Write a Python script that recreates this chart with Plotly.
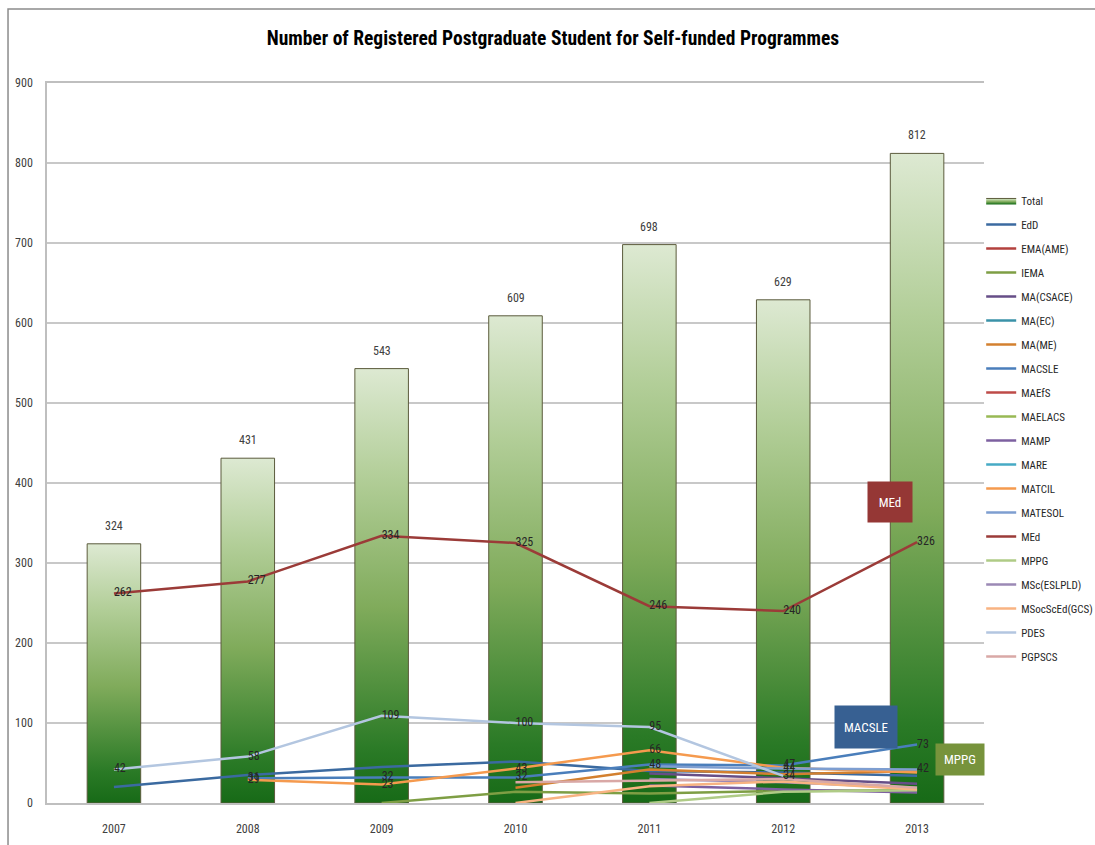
import plotly.graph_objects as go

years = ["2007", "2008", "2009", "2010", "2011", "2012", "2013"]
total = [324, 431, 543, 609, 698, 629, 812]

series_names = ["EdD", "EMA(AME)", "IEMA", "MA(CSACE)", "MA(EC)", "MA(ME)", "MACSLE",
                "MAEfS", "MAELACS", "MAMP", "MARE", "MATCIL", "MATESOL", "MEd", "MPPG",
                "MSc(ESLPLD)", "MSocScEd(GCS)", "PDES", "PGPSCS"]

EdD = [20, 35, 45, 52, 40, 38, 34]
EMA_AME = [None, None, None, None, None, None, None]
IEMA = [None, None, 0, 14, 12, 15, 16]
MA_CSACE = [None, None, None, None, 37, 31, 24]
MA_EC = [None, None, None, None, None, None, None]
MA_ME = [None, None, None, 19, 42, 36, 40]
MACSLE = [None, 31, 32, 32, 48, 47, 73]
MAEfS = [None, None, None, None, None, None, None]
MAELACS = [None, None, None, None, None, None, None]
MAMP = [None, None, None, None, 22, 17, 13]
MARE = [None, None, None, None, None, None, None]
MATCIL = [None, 29, 23, 43, 66, 44, 38]
MATESOL = [None, None, None, None, 46, 43, 42]
MEd = [262, 277, 334, 325, 246, 240, 326]
MPPG = [None, None, None, None, 0, 14, 16]
MSc_ESLPLD = [None, None, None, None, 30, 26, 19]
MSocScEd_GCS = [None, None, None, 0, 21, 27, 17]
PDES = [42, 58, 109, 100, 95, 34, None]
PGPSCS = [None, None, None, 26, 28, 30, 19]

series_values = [EdD, EMA_AME, IEMA, MA_CSACE, MA_EC, MA_ME, MACSLE, MAEfS, MAELACS, MAMP,
                 MARE, MATCIL, MATESOL, MEd, MPPG, MSc_ESLPLD, MSocScEd_GCS, PDES, PGPSCS]

series_colors = ["#3B6AA0", "#B3413E", "#7E9E44", "#664E87", "#3A92A8", "#D3802F", "#4A7EBB",
                 "#BE4B48", "#98B954", "#7D60A0", "#46AAC5", "#F59A4E", "#7E9ED0", "#9B3B38",
                 "#AFCB86", "#9B89B5", "#F8B382", "#B3C6E0", "#D9A8A6"]

# which points carry a data label (True = show value)
label_flags = {
    "MEd":     [True, True, True, True, True, True, True],
    "PDES":    [True, True, True, True, True, True, False],
    "MACSLE":  [False, True, True, True, True, True, True],
    "MATCIL":  [False, True, True, True, True, True, False],
    "MATESOL": [False, False, False, False, False, False, True],
}

FONT = "Liberation Sans Narrow, Arial Narrow, Roboto Condensed, sans-serif"
BAR_HALF = 0.2

fig = go.Figure()

# Total bars with vertical gradient (one closed shape per bar)
for i, v in enumerate(total):
    fig.add_trace(go.Scatter(
        x=[i - BAR_HALF, i - BAR_HALF, i + BAR_HALF, i + BAR_HALF, i - BAR_HALF],
        y=[0, v, v, 0, 0],
        mode="lines", fill="toself",
        fillcolor="#7fae5c",
        fillgradient=dict(type="vertical",
                          colorscale=[[0, "#176a17"], [0.12, "#2a7a26"], [0.45, "#80ab5b"],
                                      [0.75, "#b2ce98"], [1, "#dde9d2"]]),
        line=dict(color="#5b5b3c", width=1),
        name="Total", legendgroup="Total", showlegend=(i == 0),
        hoverinfo="skip",
    ))

# Total value labels
for i, v in enumerate(total):
    fig.add_annotation(x=i, y=v, xref="x", yref="y", text=str(v), showarrow=False,
                       yanchor="bottom", yshift=9,
                       font=dict(family=FONT, size=12, color="#404040"))

for name, vals, col in zip(series_names, series_values, series_colors):
    fig.add_trace(go.Scatter(
        x=list(range(len(years))), y=vals, mode="lines", name=name,
        legendgroup=name, line=dict(color=col, width=2.5),
    ))

for name, vals in zip(series_names, series_values):
    flags = label_flags.get(name)
    if flags:
        fig.add_trace(go.Scatter(
            x=list(range(len(years))), y=vals, mode="text",
            text=[str(v) if (v is not None and f) else "" for v, f in zip(vals, flags)],
            textposition="middle right",
            textfont=dict(family=FONT, size=12, color="#262626"),
            showlegend=False, hoverinfo="skip", cliponaxis=False,
        ))

# Callout boxes
callouts = [("MEd", 5.8, 376, "#953735", 42, 38),
            ("MACSLE", 5.62, 95, "#376092", 60, 40),
            ("MPPG", 6.32, 54, "#77933C", 46, 29)]
for txt, cx, cy, bg, w, h in callouts:
    fig.add_annotation(x=cx, y=cy, xref="x", yref="y", text=txt, showarrow=False,
                       bgcolor=bg, width=w, height=h,
                       font=dict(family=FONT, size=13, color="white"))

# outer chart frame
fig.add_shape(type="rect", xref="paper", yref="paper",
              x0=-0.0416, x1=1.2, y0=-0.2, y1=1.1028,
              line=dict(color="#8c8c8c", width=1.5), layer="below")

fig.update_layout(
    width=1095, height=845,
    margin=dict(l=47, r=111, t=83, b=42, autoexpand=False),
    paper_bgcolor="white", plot_bgcolor="white",
    title=dict(text="<b>Number of Registered Postgraduate Student for Self-funded Programmes</b>",
               x=0.505, xanchor="center", y=1 - 38 / 845, yanchor="middle",
               font=dict(family=FONT, size=19.5, color="#000000")),
    font=dict(family=FONT, size=12, color="#404040"),
    showlegend=True,
    legend=dict(x=0.997, xanchor="left", y=0.857, yanchor="top",
                traceorder="grouped", tracegroupgap=5,
                font=dict(family=FONT, size=11, color="#262626"),
                bgcolor="rgba(0,0,0,0)"),
    xaxis=dict(range=[-0.5, 6.5], tickmode="array", tickvals=list(range(len(years))),
               ticktext=years, showgrid=False, zeroline=False,
               showline=True, linecolor="#bfbfbf", linewidth=1.5, mirror=True,
               tickfont=dict(family=FONT, size=12, color="#404040"),
               ticks="", ticklabelstandoff=14),
    yaxis=dict(range=[0, 900], tickmode="linear", dtick=100, showgrid=True,
               gridcolor="#c8c8c8", gridwidth=1.5, zeroline=False,
               showline=True, linecolor="#bfbfbf", linewidth=1.5,
               tickfont=dict(family=FONT, size=12, color="#404040"),
               ticks="", ticklabelstandoff=10),
    hovermode=False,
)

fig.write_html("out.html")
